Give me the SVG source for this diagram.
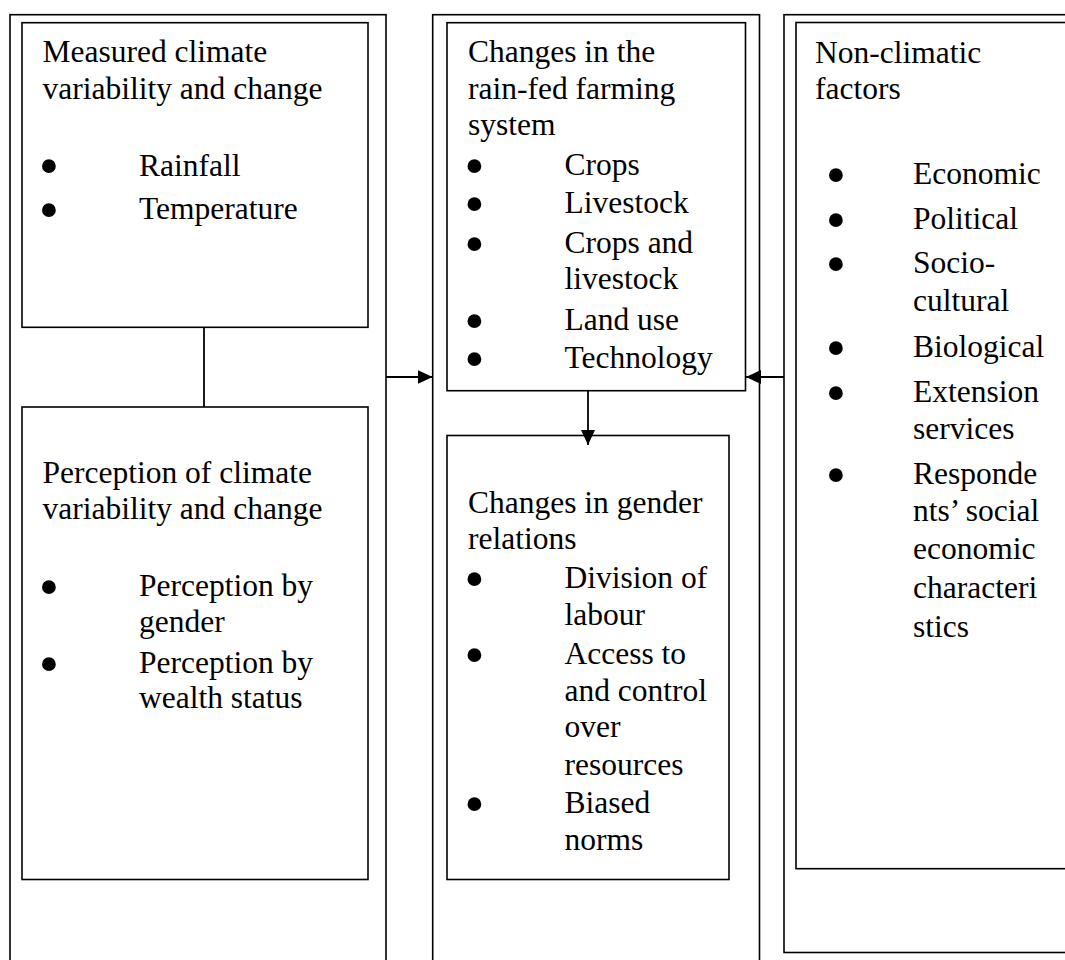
<svg xmlns="http://www.w3.org/2000/svg" width="1065" height="960" viewBox="0 0 1065 960">
  <style>
    .box { fill: #ffffff; stroke: #000000; stroke-width: 1.6; }
    .frame { fill: none; stroke: #000000; stroke-width: 1.6; }
    .t { font-family: "Liberation Serif", "Times New Roman", serif; font-size: 31.5px; fill: #000000; }
    .b { font-family: "Liberation Serif", "Times New Roman", serif; font-size: 58px; fill: #000000; text-anchor: middle; }
    .conn { fill: none; stroke: #000000; stroke-width: 1.8; }
  </style>
  <defs>
    <marker id="arrow" markerUnits="userSpaceOnUse" markerWidth="16" markerHeight="14" refX="15" refY="7" orient="auto">
      <path d="M0,0 L15,7 L0,14 Z" fill="#000000"/>
    </marker>
  </defs>
  <rect width="1065" height="960" fill="#ffffff"/>

  <!-- Left column -->
  <g id="left-frame">
    <rect class="frame" x="10" y="14.7" width="376" height="960"/>
  </g>
  <g id="measured">
    <rect class="box" x="22" y="22.7" width="346" height="304.6"/>
    <text class="t" x="42.5" y="62">Measured climate</text>
    <text class="t" x="42.5" y="99">variability and change</text>
    <text class="b" x="49" y="185">•</text>
    <text class="t" x="139" y="175.5">Rainfall</text>
    <text class="b" x="49" y="228.5">•</text>
    <text class="t" x="139" y="219">Temperature</text>
  </g>
  <g id="perception">
    <rect class="box" x="22" y="407" width="346" height="472.5"/>
    <text class="t" x="42.5" y="483">Perception of climate</text>
    <text class="t" x="42.5" y="519">variability and change</text>
    <text class="b" x="49" y="605.5">•</text>
    <text class="t" x="139" y="596">Perception by</text>
    <text class="t" x="139" y="632">gender</text>
    <text class="b" x="49" y="682.5">•</text>
    <text class="t" x="139" y="673">Perception by</text>
    <text class="t" x="139" y="708">wealth status</text>
  </g>

  <!-- Centre column -->
  <g id="centre-frame">
    <rect class="frame" x="432.7" y="14.7" width="326.8" height="960"/>
  </g>
  <g id="farming">
    <rect class="box" x="447" y="22.7" width="298.5" height="368"/>
    <text class="t" x="468" y="62">Changes in the</text>
    <text class="t" x="468" y="99">rain-fed farming</text>
    <text class="t" x="468" y="135">system</text>
    <text class="b" x="474.5" y="184.5">•</text>
    <text class="t" x="564.5" y="175">Crops</text>
    <text class="b" x="474.5" y="222.5">•</text>
    <text class="t" x="564.5" y="213">Livestock</text>
    <text class="b" x="474.5" y="262.5">•</text>
    <text class="t" x="564.5" y="253">Crops and</text>
    <text class="t" x="564.5" y="289">livestock</text>
    <text class="b" x="474.5" y="339.5">•</text>
    <text class="t" x="564.5" y="330">Land use</text>
    <text class="b" x="474.5" y="377.5">•</text>
    <text class="t" x="564.5" y="368">Technology</text>
  </g>
  <g id="gender">
    <rect class="box" x="447" y="435.5" width="282" height="444"/>
    <text class="t" x="468" y="513">Changes in gender</text>
    <text class="t" x="468" y="549">relations</text>
    <text class="b" x="474.5" y="597.5">•</text>
    <text class="t" x="564.5" y="588">Division of</text>
    <text class="t" x="564.5" y="625">labour</text>
    <text class="b" x="474.5" y="673.5">•</text>
    <text class="t" x="564.5" y="664">Access to</text>
    <text class="t" x="564.5" y="701">and control</text>
    <text class="t" x="564.5" y="737">over</text>
    <text class="t" x="564.5" y="775">resources</text>
    <text class="b" x="474.5" y="822.5">•</text>
    <text class="t" x="564.5" y="813">Biased</text>
    <text class="t" x="564.5" y="850">norms</text>
  </g>

  <!-- Right column -->
  <g id="right-frame">
    <rect class="frame" x="784" y="14.7" width="300" height="937.8"/>
  </g>
  <g id="nonclimatic">
    <rect class="box" x="796" y="22.5" width="290" height="846.2"/>
    <text class="t" x="815" y="63">Non-climatic</text>
    <text class="t" x="815" y="99">factors</text>
    <text class="b" x="836" y="193.5">•</text>
    <text class="t" x="913" y="184">Economic</text>
    <text class="b" x="836" y="238.5">•</text>
    <text class="t" x="913" y="229">Political</text>
    <text class="b" x="836" y="282.5">•</text>
    <text class="t" x="913" y="273">Socio-</text>
    <text class="t" x="913" y="311">cultural</text>
    <text class="b" x="836" y="366.5">•</text>
    <text class="t" x="913" y="357">Biological</text>
    <text class="b" x="836" y="411.5">•</text>
    <text class="t" x="913" y="402">Extension</text>
    <text class="t" x="913" y="439">services</text>
    <text class="b" x="836" y="493.5">•</text>
    <text class="t" x="913" y="484">Responde</text>
    <text class="t" x="913" y="521">nts’ social</text>
    <text class="t" x="913" y="559">economic</text>
    <text class="t" x="913" y="598">characteri</text>
    <text class="t" x="913" y="637">stics</text>
  </g>

  <!-- Connectors -->
  <g id="connectors">
    <line class="conn" x1="204" y1="327.3" x2="204" y2="407"/>
    <line class="conn" x1="386" y1="377" x2="432.7" y2="377" marker-end="url(#arrow)"/>
    <line class="conn" x1="784" y1="377" x2="746" y2="377" marker-end="url(#arrow)"/>
    <line class="conn" x1="588" y1="390.7" x2="588" y2="445" marker-end="url(#arrow)"/>
  </g>
</svg>
